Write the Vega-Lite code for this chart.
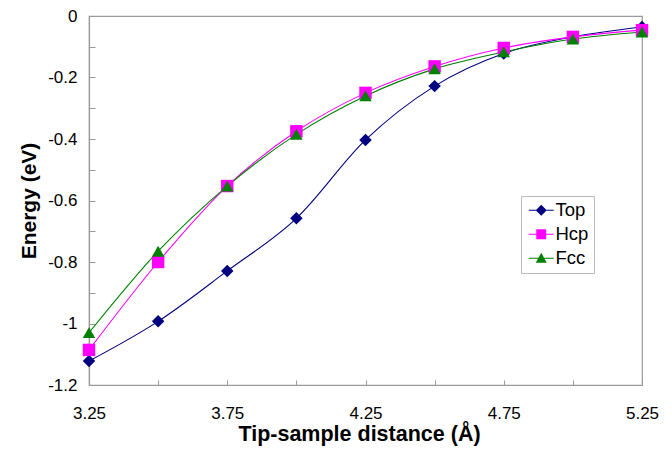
{
  "$schema": "https://vega.github.io/schema/vega-lite/v6.json",
  "width": 553,
  "height": 369,
  "autosize": {"type": "none"},
  "padding": {"left": 89, "top": 16, "right": 30, "bottom": 67},
  "background": "white",
  "config": {
    "font": "Liberation Sans",
    "view": {"stroke": "#9a9a9a", "strokeWidth": 1.2}
  },
  "data": {
    "values": [
      {"d": 3.25, "series": "Top", "e": -1.122},
      {"d": 3.5, "series": "Top", "e": -0.993},
      {"d": 3.75, "series": "Top", "e": -0.829},
      {"d": 4.0, "series": "Top", "e": -0.658},
      {"d": 4.25, "series": "Top", "e": -0.403},
      {"d": 4.5, "series": "Top", "e": -0.228},
      {"d": 4.75, "series": "Top", "e": -0.122},
      {"d": 5.0, "series": "Top", "e": -0.068},
      {"d": 5.25, "series": "Top", "e": -0.036},
      {"d": 3.25, "series": "Hcp", "e": -1.086},
      {"d": 3.5, "series": "Hcp", "e": -0.8},
      {"d": 3.75, "series": "Hcp", "e": -0.553},
      {"d": 4.0, "series": "Hcp", "e": -0.375},
      {"d": 4.25, "series": "Hcp", "e": -0.25},
      {"d": 4.5, "series": "Hcp", "e": -0.164},
      {"d": 4.75, "series": "Hcp", "e": -0.104},
      {"d": 5.0, "series": "Hcp", "e": -0.068},
      {"d": 5.25, "series": "Hcp", "e": -0.046},
      {"d": 3.25, "series": "Fcc", "e": -1.03},
      {"d": 3.5, "series": "Fcc", "e": -0.765},
      {"d": 3.75, "series": "Fcc", "e": -0.553},
      {"d": 4.0, "series": "Fcc", "e": -0.385},
      {"d": 4.25, "series": "Fcc", "e": -0.26},
      {"d": 4.5, "series": "Fcc", "e": -0.172},
      {"d": 4.75, "series": "Fcc", "e": -0.117},
      {"d": 5.0, "series": "Fcc", "e": -0.075},
      {"d": 5.25, "series": "Fcc", "e": -0.052}
    ]
  },
  "encoding": {
    "x": {
      "field": "d", "type": "quantitative",
      "scale": {"domain": [3.25, 5.25], "nice": false, "zero": false},
      "axis": {
        "title": "Tip-sample distance (Å)",
        "titleX": 270,
        "values": [3.25, 3.5, 3.75, 4.0, 4.25, 4.5, 4.75, 5.0, 5.25],
        "labelExpr": "round(datum.value*4) % 2 == 1 ? format(datum.value, '.2f') : ''",
        "grid": false,
        "domainColor": "#9a9a9a", "domainWidth": 1.2,
        "tickColor": "#9a9a9a", "tickSize": -5,
        "labelFontSize": 17, "labelColor": "black", "labelPadding": 25,
        "labelFlush": false,
        "titleFontSize": 21.5, "titleFontWeight": "bold", "titleColor": "black", "titlePadding": 2
      }
    },
    "y": {
      "field": "e", "type": "quantitative",
      "scale": {"domain": [-1.2, 0], "nice": false, "zero": false},
      "axis": {
        "title": "Energy (eV)",
        "values": [-1.2, -1.1, -1.0, -0.9, -0.8, -0.7, -0.6, -0.5, -0.4, -0.3, -0.2, -0.1, 0],
        "labelExpr": "round(datum.value*10) % 2 == 0 ? '' + datum.value : ''",
        "grid": false,
        "domainColor": "#9a9a9a", "domainWidth": 1.2,
        "tickColor": "#9a9a9a", "tickSize": -6,
        "labelFontSize": 17, "labelColor": "black", "labelPadding": 18,
        "labelFlush": false,
        "titleFontSize": 21, "titleFontWeight": "bold", "titleColor": "black", "titlePadding": 8
      }
    }
  },
  "layer": [
    {
      "mark": {"type": "line", "interpolate": "cardinal", "strokeWidth": 1.1},
      "encoding": {
        "color": {
          "field": "series", "type": "nominal",
          "scale": {"domain": ["Top", "Hcp", "Fcc"], "range": ["#000080", "#ff00ff", "#008000"]},
          "legend": null
        },
        "detail": {"field": "series"}
      }
    },
    {
      "mark": {"type": "point", "filled": true, "opacity": 1, "size": 155},
      "encoding": {
        "color": {
          "field": "series", "type": "nominal",
          "scale": {"domain": ["Top", "Hcp", "Fcc"], "range": ["#000080", "#ff00ff", "#008000"]},
          "legend": null
        },
        "shape": {
          "field": "series", "type": "nominal",
          "scale": {"domain": ["Top", "Hcp", "Fcc"], "range": ["diamond", "square", "triangle-up"]},
          "legend": null
        }
      }
    },
    {
      "mark": {"type": "point", "filled": true, "opacity": 0},
      "encoding": {
        "color": {
          "field": "series", "type": "nominal",
          "scale": {"domain": ["Top", "Hcp", "Fcc"], "range": ["#000080", "#ff00ff", "#008000"]},
          "legend": {
            "title": null,
            "orient": "none",
            "legendX": 432,
            "legendY": 180,
            "padding": 5,
            "strokeColor": "#bbbbbb",
            "fillColor": "white",
            "symbolOpacity": 1,
            "symbolSize": 121,
            "symbolStrokeWidth": 0,
            "symbolOffset": 6,
            "labelFontSize": 18.5,
            "labelColor": "black",
            "labelOffset": 5,
            "rowPadding": 5
          }
        },
        "shape": {
          "field": "series", "type": "nominal",
          "scale": {
            "domain": ["Top", "Hcp", "Fcc"],
            "range": [
              "M-2.27,-0.09H2.27V0.09H-2.27Z M0,-1L1,0L0,1L-1,0Z",
              "M-2.27,-0.09H2.27V0.09H-2.27Z M-0.9,-0.9H0.9V0.9H-0.9Z",
              "M-2.27,-0.09H2.27V0.09H-2.27Z M0,-1L1,0.8H-1Z"
            ]
          },
          "legend": {
            "title": null,
            "orient": "none",
            "legendX": 432,
            "legendY": 180,
            "padding": 5,
            "strokeColor": "#bbbbbb",
            "fillColor": "white",
            "symbolOpacity": 1,
            "symbolSize": 121,
            "symbolStrokeWidth": 0,
            "symbolOffset": 6,
            "labelFontSize": 18.5,
            "labelColor": "black",
            "labelOffset": 5,
            "rowPadding": 5
          }
        }
      }
    }
  ],
  "resolve": {"scale": {"shape": "independent", "color": "independent"}}
}
